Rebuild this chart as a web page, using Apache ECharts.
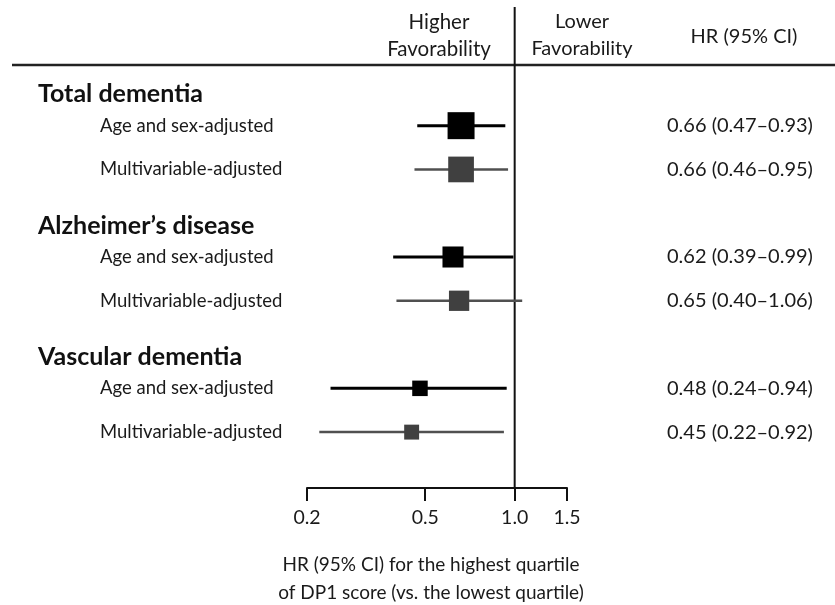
<!DOCTYPE html>
<html>
<head>
<meta charset="utf-8">
<script src="https://cdn.jsdelivr.net/npm/echarts@6/dist/echarts.min.js"></script>
<style>html,body{margin:0;padding:0;background:#fff}#c{width:835px;height:605px}</style>
</head>
<body>
<div id="c"></div>
<script>
// ---- data ----
const groups = ['Total dementia', 'Alzheimer\u2019s disease', 'Vascular dementia'];
const models = ['Age and sex-adjusted', 'Multivariable-adjusted'];
const hrVals = [0.66, 0.66, 0.62, 0.65, 0.48, 0.45];
const loVals = [0.47, 0.46, 0.39, 0.40, 0.24, 0.22];
const hiVals = [0.93, 0.95, 0.99, 1.06, 0.94, 0.92];
const xTicks = [0.2, 0.5, 1.0, 1.5];
const headerLeft = 'Higher\nFavorability';
const headerRight = 'Lower\nFavorability';
const headerCol = 'HR (95% CI)';
const axisTitle = 'HR (95% CI) for the highest quartile\nof DP1 score (vs. the lowest quartile)';

// ---- build category rows ----
const cats = [];
const seriesData = [];
let r = 0;
groups.forEach((g, gi) => {
  cats.push({ head: true, text: g });
  models.forEach((m, mi) => {
    const k = cats.length;
    cats.push({ head: false, text: m, r: r });
    seriesData.push([hrVals[r], loVals[r], hiVals[r], k, mi]);
    r++;
  });
});
const catKeys = cats.map((c, k) => String(k));
const fmt = v => v.toFixed(2);

const FONT = 'Lato';
const TXT = '#1a1a1a';

const chart = echarts.init(document.getElementById('c'), null, { renderer: 'canvas' });

function renderRow(params, api) {
  const y = api.value(3);
  const h = api.value(0), lo = api.value(1), hi = api.value(2);
  const pc = api.coord([h, y]);
  const pl = api.coord([lo, y]);
  const ph = api.coord([hi, y]);
  const w = Math.log(hi / lo);
  const size = 27 * Math.pow(0.682 / w, 0.8);
  const adj = api.value(4) === 1;
  return {
    type: 'group',
    children: [
      { type: 'line', shape: { x1: pl[0], y1: pl[1], x2: ph[0], y2: ph[1] },
        style: { stroke: adj ? '#505050' : '#000', lineWidth: adj ? 2.5 : 3 } },
      { type: 'rect', shape: { x: pc[0] - size / 2, y: pc[1] - size / 2, width: size, height: size },
        style: { fill: adj ? '#404040' : '#000' } }
    ]
  };
}

function renderRef(params, api) {
  const p = api.coord([api.value(0), api.value(1)]);
  return { type: 'line', shape: { x1: p[0], y1: 7, x2: p[0], y2: 488 },
           style: { stroke: '#111', lineWidth: 2 } };
}

const option = {
  backgroundColor: '#fff',
  animation: false,
  grid: { left: 307, right: 268, top: 60, bottom: 151, containLabel: false, outerBoundsMode: 'none' },
  xAxis: {
    type: 'log',
    logBase: 10,
    min: 0.2,
    max: 1.5,
    offset: 34,
    axisLine: { show: true, lineStyle: { color: '#111', width: 2 } },
    axisTick: { show: true, length: 13, lineStyle: { color: '#111', width: 2 }, customValues: xTicks },
    axisLabel: { customValues: xTicks, formatter: v => Number(v).toFixed(1), margin: 20,
                 fontFamily: FONT, fontSize: 19.5, color: TXT },
    minorTick: { show: false },
    splitLine: { show: false },
    name: axisTitle,
    nameLocation: 'middle',
    nameGap: 63,
    nameTextStyle: { fontFamily: FONT, fontSize: 19, color: TXT, lineHeight: 28, padding: [0, 12, 0, 0] }
  },
  yAxis: [
    {
      type: 'category', data: catKeys, inverse: true, position: 'left',
      axisLine: { show: false }, axisTick: { show: false }, splitLine: { show: false },
      axisLabel: { interval: 0, align: 'left', margin: 207, fontFamily: FONT, fontSize: 18.5, color: TXT,
                   formatter: (v, i) => cats[i].head ? '' : cats[i].text }
    },
    {
      type: 'category', data: catKeys, inverse: true, position: 'left',
      axisLine: { show: false }, axisTick: { show: false }, splitLine: { show: false },
      axisLabel: { interval: 0, align: 'left', verticalAlign: 'top', margin: 269, fontFamily: FONT,
                   fontSize: 25, fontWeight: 'bold', color: '#111',
                   formatter: (v, i) => cats[i].head ? cats[i].text : '' }
    },
    {
      type: 'category', data: catKeys, inverse: true, position: 'right',
      axisLine: { show: false }, axisTick: { show: false }, splitLine: { show: false },
      axisLabel: { interval: 0, align: 'left', margin: 100, fontFamily: FONT, fontSize: 20, color: TXT,
                   formatter: (v, i) => {
                     const c = cats[i];
                     if (c.head) return '';
                     return fmt(hrVals[c.r]) + ' (' + fmt(loVals[c.r]) + '\u2013' + fmt(hiVals[c.r]) + ')';
                   } }
    }
  ],
  graphic: [
    { type: 'line', shape: { x1: 12, y1: 65, x2: 835, y2: 65 }, style: { stroke: '#222', lineWidth: 2.5 } },
    { type: 'text', x: 439, y: 35.5, style: { text: headerLeft, align: 'center', verticalAlign: 'middle',
      font: '20.5px Lato', fill: TXT, lineHeight: 27 } },
    { type: 'text', x: 582, y: 35.5, style: { text: headerRight, align: 'center', verticalAlign: 'middle',
      font: '20px Lato', fill: TXT, lineHeight: 27 } },
    { type: 'text', x: 744, y: 37, style: { text: headerCol, align: 'center', verticalAlign: 'middle',
      font: '20px Lato', fill: TXT } }
  ],
  series: [
    { type: 'custom', name: 'ref', renderItem: renderRef, data: [[1, 0]], encode: { x: 0, y: 1 },
      clip: false, silent: true, z: 1 },
    { type: 'custom', name: 'HR', renderItem: renderRow, data: seriesData, encode: { x: [0, 1, 2], y: 3 },
      clip: false, z: 2 }
  ]
};
chart.setOption(option);
</script>
</body>
</html>
